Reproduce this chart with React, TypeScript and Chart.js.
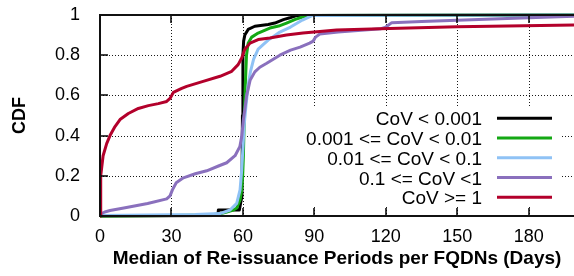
import React, { useEffect, useRef } from 'react';
import { Chart, registerables } from 'chart.js';

Chart.register(...registerables);

const FONT = '"Liberation Sans", Arial, Helvetica, sans-serif';

const seriesLabels = ['CoV < 0.001', '0.001 <= CoV < 0.01', '0.01 <= CoV < 0.1', '0.1 <= CoV <1', 'CoV >= 1'];
const seriesColors = ['#000000', '#14a814', '#8fc2f5', '#8a70bd', '#b3002b'];

const blackX = [0, 49.5, 49.7, 54.5, 58.5, 59.6, 59.8, 60.0, 60.3, 60.8, 62.2, 65, 70.6, 73.4, 77, 79.7, 82.5, 199];
const blackY = [0, 0.002, 0.03, 0.03, 0.03, 0.1, 0.5, 0.8, 0.87, 0.9, 0.928, 0.944, 0.953, 0.96, 0.977, 0.986, 0.997, 1];

const greenX = [0, 30, 45, 50, 53.2, 56, 57.4, 58.8, 59.5, 59.9, 60.2, 60.5, 61, 61.5, 62.2, 63.7, 66.4, 71.3, 75, 78.3, 82, 85, 88, 199];
const greenY = [0, 0.002, 0.005, 0.01, 0.02, 0.03, 0.04, 0.08, 0.13, 0.2, 0.3, 0.45, 0.65, 0.8, 0.86, 0.89, 0.91, 0.935, 0.945, 0.96, 0.978, 0.99, 0.998, 1];

const blueX = [0, 20, 40, 50.4, 54.6, 57.4, 58.8, 59.5, 60.1, 60.5, 61.3, 62.2, 63.2, 64.5, 66.4, 70.6, 75.5, 80, 85, 89, 199];
const blueY = [0.003, 0.005, 0.007, 0.012, 0.03, 0.063, 0.13, 0.23, 0.36, 0.45, 0.55, 0.65, 0.72, 0.78, 0.83, 0.875, 0.915, 0.94, 0.975, 0.997, 1];

const purpleX = [0, 2, 4.2, 10, 20, 28, 29.4, 30.4, 32, 35, 40, 44.8, 50, 53.2, 56.7, 58.7, 59.5, 60.2, 60.8, 61.5, 63, 65, 67.1, 70, 75.5, 80, 84, 88, 89.5, 90.5, 92.3, 100, 118, 120, 122.5, 135, 150, 180, 199];
const purpleY = [0.008, 0.02, 0.027, 0.04, 0.062, 0.085, 0.1, 0.13, 0.165, 0.19, 0.21, 0.225, 0.25, 0.265, 0.3, 0.345, 0.395, 0.48, 0.53, 0.595, 0.675, 0.717, 0.74, 0.76, 0.8, 0.825, 0.84, 0.86, 0.87, 0.89, 0.905, 0.915, 0.932, 0.94, 0.962, 0.968, 0.974, 0.986, 0.994];

const redX = [0, 0.2, 0.4, 1.3, 2.8, 4.2, 6.3, 8.4, 11.9, 16.1, 20.3, 24.5, 28, 29.4, 30.8, 34.3, 36.4, 43.3, 50.4, 55.3, 58, 59.5, 60.8, 63, 66.4, 71.3, 78.3, 85.2, 92.3, 99.3, 117.5, 150, 199];
const redY = [0, 0.1, 0.2, 0.3, 0.36, 0.4, 0.445, 0.48, 0.51, 0.535, 0.549, 0.559, 0.57, 0.585, 0.615, 0.635, 0.645, 0.67, 0.695, 0.72, 0.753, 0.786, 0.83, 0.86, 0.878, 0.886, 0.9, 0.91, 0.918, 0.925, 0.932, 0.942, 0.95];

const seriesX = [blackX, greenX, blueX, purpleX, redX];
const seriesY = [blackY, greenY, blueY, purpleY, redY];

const xTickValues = [0, 30, 60, 90, 120, 150, 180];
const xTickLabels = ['0', '30', '60', '90', '120', '150', '180'];
const yTickValues = [0, 0.2, 0.4, 0.6, 0.8, 1];
const yTickLabels = ['0', '0.2', '0.4', '0.6', '0.8', '1'];
const xMin = 0;
const xMax = 199;
const xTitle = 'Median of Re-issuance Periods per FQDNs (Days)';
const yTitle = 'CDF';

// legend layout (pixels)
const LEG = { boxL: 258, boxR: 562, boxT: 108, boxB: 207, textR: 482, lineL: 497, lineR: 552, row0: 118.3, rowH: 19.75 };

const decorPlugin = {
  id: 'decor',
  beforeDatasetsDraw(chart: any) {
    const { ctx, chartArea: a, scales } = chart;
    const x = scales.x, y = scales.y;
    ctx.save();
    ctx.beginPath();
    ctx.rect(a.left, a.top, a.right - a.left, a.bottom - a.top);
    ctx.rect(LEG.boxL, LEG.boxT, LEG.boxR - LEG.boxL, LEG.boxB - LEG.boxT);
    ctx.clip('evenodd');
    ctx.strokeStyle = 'rgba(0,0,0,0.9)';
    ctx.lineWidth = 1;
    ctx.setLineDash([1, 2]);
    for (const v of yTickValues) {
      if (v <= 0 || v >= 1) continue;
      const py = Math.round(y.getPixelForValue(v)) + 0.5;
      ctx.beginPath();
      ctx.moveTo(a.left, py);
      ctx.lineTo(a.right, py);
      ctx.stroke();
    }
    for (const v of xTickValues) {
      if (v <= xMin) continue;
      const px = Math.round(x.getPixelForValue(v)) + 0.5;
      ctx.beginPath();
      ctx.moveTo(px, a.top);
      ctx.lineTo(px, a.bottom);
      ctx.stroke();
    }
    ctx.restore();
  },
  afterDatasetsDraw(chart: any) {
    const { ctx, chartArea: a, scales } = chart;
    const x = scales.x, y = scales.y;
    ctx.save();
    ctx.fillStyle = '#ffffff';
    ctx.fillRect(LEG.boxL, LEG.boxT, LEG.boxR - LEG.boxL, LEG.boxB - LEG.boxT);
    ctx.strokeStyle = '#000';
    ctx.lineWidth = 1.5;
    ctx.setLineDash([]);
    for (const v of xTickValues) {
      const px = Math.round(x.getPixelForValue(v));
      ctx.beginPath();
      ctx.moveTo(px, a.bottom);
      ctx.lineTo(px, a.bottom - 8);
      ctx.moveTo(px, a.top);
      ctx.lineTo(px, a.top + 8);
      ctx.stroke();
    }
    for (const v of yTickValues) {
      const py = Math.round(y.getPixelForValue(v));
      ctx.beginPath();
      ctx.moveTo(a.left, py);
      ctx.lineTo(a.left + 8, py);
      ctx.stroke();
    }
    ctx.lineWidth = 2;
    ctx.strokeStyle = '#111';
    ctx.beginPath();
    ctx.moveTo(a.right + 2, a.top);
    ctx.lineTo(a.left, a.top);
    ctx.lineTo(a.left, a.bottom);
    ctx.lineTo(a.right + 2, a.bottom);
    ctx.stroke();
    ctx.font = '19px ' + FONT;
    ctx.textAlign = 'right';
    ctx.textBaseline = 'alphabetic';
    ctx.fillStyle = '#000';
    chart.data.datasets.forEach((ds: any, i: number) => {
      const ry = LEG.row0 + i * LEG.rowH;
      ctx.fillText(ds.label, LEG.textR, ry + 7);
      ctx.strokeStyle = ds.borderColor;
      ctx.lineWidth = 3;
      ctx.beginPath();
      ctx.moveTo(LEG.lineL, ry);
      ctx.lineTo(LEG.lineR, ry);
      ctx.stroke();
    });
    ctx.restore();
  },
};

export default function App() {
  const ref = useRef<HTMLCanvasElement | null>(null);
  useEffect(() => {
    if (!ref.current) return;
    const datasets = seriesLabels.map((label, i) => ({
      label,
      data: seriesX[i].map((xv, j) => ({ x: xv, y: seriesY[i][j] })),
      borderColor: seriesColors[i],
      backgroundColor: seriesColors[i],
      borderWidth: 3,
      pointRadius: 0,
      tension: 0,
      fill: false,
      clip: 3,
      order: seriesLabels.length - i,
      borderJoinStyle: 'round' as const,
    }));
    const chart = new Chart(ref.current, {
      type: 'line',
      data: { datasets },
      plugins: [decorPlugin],
      options: {
        animation: false,
        responsive: false,
        maintainAspectRatio: false,
        layout: { padding: { top: 15, left: 0, right: 0, bottom: 0 } },
        plugins: { legend: { display: false }, tooltip: { enabled: false } },
        scales: {
          x: {
            type: 'linear',
            min: xMin,
            max: xMax,
            grid: { display: false },
            border: { display: false },
            afterBuildTicks: (s: any) => {
              s.ticks = xTickValues.map((v) => ({ value: v }));
            },
            afterFit: (s: any) => {
              s.height = 60;
              s.paddingLeft = 0;
              s.paddingRight = 0;
            },
            ticks: {
              padding: 2,
              color: '#000',
              autoSkip: false,
              maxRotation: 0,
              font: { family: FONT, size: 18 },
              callback: (v: any) => {
                const k = xTickValues.indexOf(Number(v));
                return k >= 0 ? xTickLabels[k] : '';
              },
            },
            title: {
              display: true,
              text: xTitle,
              color: '#000',
              font: { family: FONT, size: 19, weight: 'bold' },
              padding: { top: 0, bottom: 6 },
            },
          },
          y: {
            type: 'linear',
            min: 0,
            max: 1,
            grid: { display: false },
            border: { display: false },
            afterBuildTicks: (s: any) => {
              s.ticks = yTickValues.map((v) => ({ value: v }));
            },
            afterFit: (s: any) => {
              s.width = 100;
              s.paddingTop = 0;
              s.paddingBottom = 0;
            },
            ticks: {
              padding: 12,
              color: '#000',
              autoSkip: false,
              font: { family: FONT, size: 18 },
              callback: (v: any) => {
                const k = yTickValues.findIndex((t) => Math.abs(t - Number(v)) < 1e-9);
                return k >= 0 ? yTickLabels[k] : '';
              },
            },
            title: {
              display: true,
              text: yTitle,
              color: '#000',
              font: { family: FONT, size: 18, weight: 'bold' },
              padding: { top: 9, bottom: 0 },
            },
          },
        },
      },
    });
    return () => chart.destroy();
  }, []);
  return (
    <div style={{ position: 'fixed', left: 0, top: 0, width: 574, height: 276, background: '#fff' }}>
      <canvas ref={ref} width={574} height={276} style={{ display: 'block', width: 574, height: 276 }} />
    </div>
  );
}
